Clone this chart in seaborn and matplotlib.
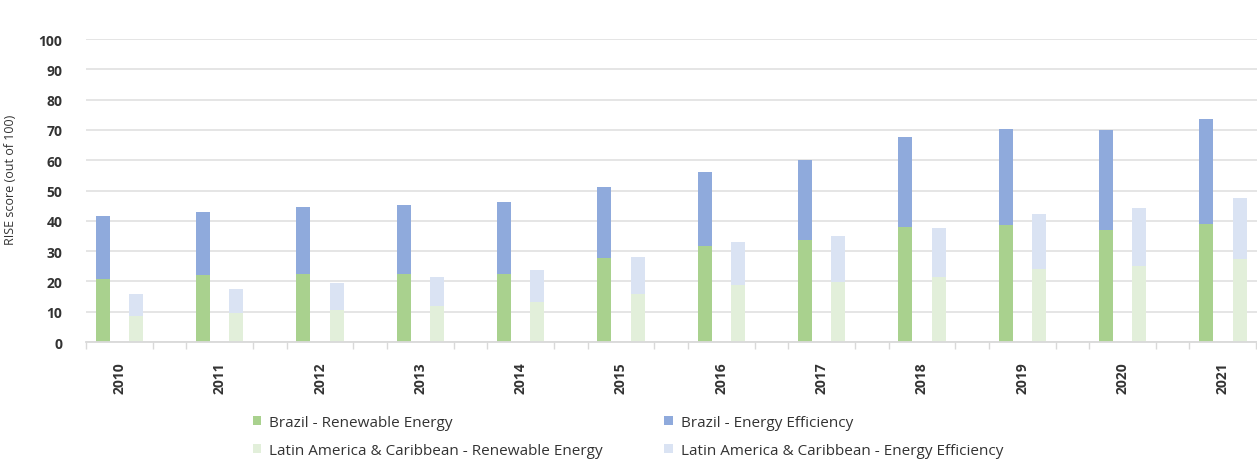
import numpy as np
import pandas as pd
import matplotlib
matplotlib.use("Agg")
import matplotlib.pyplot as plt
import seaborn as sns
from matplotlib.patches import Patch

# --- data (RISE scores, out of 100) ---
years = [2010, 2011, 2012, 2013, 2014, 2015, 2016, 2017, 2018, 2019, 2020, 2021]
brazil_re = [20.8, 22.0, 22.4, 22.4, 22.4, 27.7, 31.7, 33.7, 38.0, 38.5, 36.9, 39.0]
brazil_ee = [20.9, 20.8, 22.2, 22.7, 23.8, 23.5, 24.4, 26.4, 29.5, 31.7, 33.1, 34.7]
lac_re = [8.6, 9.6, 10.6, 12.0, 13.2, 15.8, 18.8, 19.8, 21.5, 24.1, 25.1, 27.4]
lac_ee = [7.2, 7.9, 8.9, 9.4, 10.6, 12.2, 14.2, 15.2, 16.1, 18.1, 19.1, 20.1]

series_names = ["Brazil", "Latin America & Caribbean"]
legend_labels = [
    "Brazil - Renewable Energy",
    "Latin America & Caribbean - Renewable Energy",
    "Brazil - Energy Efficiency",
    "Latin America & Caribbean - Energy Efficiency",
]

GREEN = "#a9d18e"
BLUE = "#8faadc"
LIGHT_GREEN = "#e2efda"
LIGHT_BLUE = "#dae3f3"
TEXT = "#333333"

# long table: Brazil bar at slot 3*i, LAC bar at slot 3*i+1, empty slot after
rows = []
for i, yr in enumerate(years):
    rows.append({"year": yr, "series": "Brazil", "pos": 3 * i,
                 "re": brazil_re[i], "total": brazil_re[i] + brazil_ee[i]})
    rows.append({"year": yr, "series": "Latin America & Caribbean", "pos": 3 * i + 1,
                 "re": lac_re[i], "total": lac_re[i] + lac_ee[i]})
df = pd.DataFrame(rows)

sns.set_theme(style="white")
plt.rcParams["font.family"] = ["Open Sans", "DejaVu Sans"]

fig = plt.figure(figsize=(12.57, 4.6), dpi=100)
ax = fig.add_axes([0.0684, 0.2543, 0.9316, 0.6587])

# stacked bars: draw totals (energy efficiency on top), then renewable part over them
sns.barplot(data=df, x="pos", y="total", hue="series", hue_order=series_names,
            palette={"Brazil": BLUE, "Latin America & Caribbean": LIGHT_BLUE},
            native_scale=True, dodge=False, width=0.42, errorbar=None,
            saturation=1, linewidth=0, legend=False, ax=ax)
sns.barplot(data=df, x="pos", y="re", hue="series", hue_order=series_names,
            palette={"Brazil": GREEN, "Latin America & Caribbean": LIGHT_GREEN},
            native_scale=True, dodge=False, width=0.42, errorbar=None,
            saturation=1, linewidth=0, legend=False, ax=ax)

ax.set_xlim(-0.5, 34.52)
ax.set_ylim(0, 100)
ax.set_yticks(np.arange(0, 101, 10))
ax.set_yticklabels([str(v) for v in range(0, 101, 10)], fontsize=10,
                   fontweight="bold", color=TEXT)
ax.tick_params(axis="y", length=0, pad=17)

ax.set_xticks([3 * i + 0.5 for i in range(len(years))])
ax.set_xticklabels([str(y) for y in years], rotation=90, fontsize=10,
                   fontweight="bold", color=TEXT)
ax.set_xticks(np.arange(-0.5, 35, 1), minor=True)
ax.tick_params(axis="x", which="major", length=0, pad=14)
ax.tick_params(axis="x", which="minor", length=5, width=1, color="#d9d9d9",
               direction="out", bottom=True)
ax.set_xlabel("")
ax.set_ylabel("RISE score (out of 100)", fontsize=9, color=TEXT)
ax.yaxis.set_label_coords(-0.059, 0.54)

ax.yaxis.grid(True, color="#e3e3e3", linewidth=1.3)
ax.set_axisbelow(True)
for side in ["top", "right", "left"]:
    ax.spines[side].set_visible(False)
ax.spines["bottom"].set_color("#d9d9d9")
ax.spines["bottom"].set_linewidth(1.3)

handles = [Patch(facecolor=c, edgecolor="none") for c in [GREEN, LIGHT_GREEN, BLUE, LIGHT_BLUE]]
fig.legend(handles, legend_labels, ncol=2, loc="upper left",
           bbox_to_anchor=(0.201, 0.096), frameon=False, fontsize=11,
           handlelength=0.55, handleheight=0.55, handletextpad=0.55,
           columnspacing=4.0, labelspacing=0.85, labelcolor=TEXT,
           borderaxespad=0, borderpad=0)

fig.savefig("out.png", dpi=100)
